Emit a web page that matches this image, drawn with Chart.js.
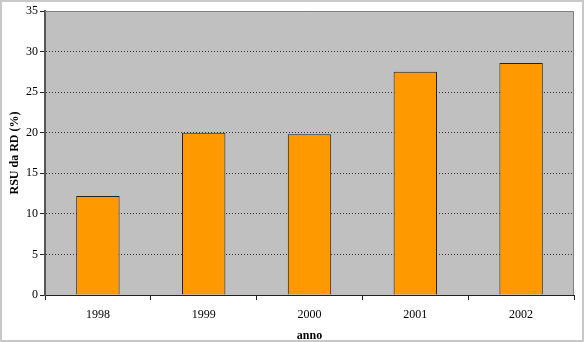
<!DOCTYPE html>
<html><head><meta charset="utf-8">
<script src="https://cdn.jsdelivr.net/npm/chart.js@4/dist/chart.umd.min.js"></script>
<style>html,body{margin:0;padding:0;background:#fff}#w{width:584px;height:342px;position:relative}</style>
</head><body><div id="w"><canvas id="c" width="584" height="342"></canvas></div>
<script>
const categories = ['1998','1999','2000','2001','2002'];
const values = [12.2, 20.0, 19.8, 27.5, 28.6];
const yTicks = [0,5,10,15,20,25,30,35];
const yTitle = 'RSU da RD (%)';
const xTitle = 'anno';

const bgPlugin = {
  id:'bg',
  beforeDraw(chart){
    const {ctx, chartArea:a} = chart;
    ctx.save();
    ctx.fillStyle='#fff'; ctx.fillRect(0,0,chart.width,chart.height);
    ctx.fillStyle='#c0c0c0'; ctx.fillRect(a.left,a.top,a.right-a.left,a.bottom-a.top);
    ctx.restore();
  },
  afterDraw(chart){
    const {ctx, chartArea:a} = chart;
    ctx.save();
    ctx.strokeStyle='#808080'; ctx.lineWidth=1;
    ctx.beginPath();
    ctx.moveTo(a.left,a.top+0.5); ctx.lineTo(a.right-0.5,a.top+0.5); ctx.lineTo(a.right-0.5,a.bottom);
    ctx.stroke();
    ctx.strokeStyle='#c8c8c8'; ctx.lineWidth=2;
    ctx.strokeRect(1,1,chart.width-2,chart.height-2);
    ctx.restore();
  }
};
const serif = 'Liberation Serif';
new Chart(document.getElementById('c'), {
  type:'bar',
  data:{labels:categories, datasets:[{data:values, backgroundColor:'#ff9900', borderColor:'#222', borderWidth:1, barPercentage:0.82, categoryPercentage:0.5}]},
  options:{
    responsive:false, animation:false, devicePixelRatio:1,
    layout:{padding:{left:0,right:10,top:11,bottom:0}},
    plugins:{legend:{display:false}, tooltip:{enabled:false}},
    scales:{
      x:{
        grid:{offset:true, drawOnChartArea:false, drawTicks:true, tickLength:5, color:'#222'},
        border:{color:'#222', width:1},
        ticks:{color:'#000', font:{family:serif,size:12}, padding:8},
        title:{display:true, text:xTitle, color:'#000', font:{family:serif,size:12,weight:'bold'}, padding:{top:0,bottom:-1}},
        afterFit(s){ s.height = 47; }
      },
      y:{
        min:0, max:35,
        afterBuildTicks(s){ s.ticks = yTicks.map(v=>({value:v})); },
        grid:{color:'#333', tickColor:'#222', tickLength:5, lineWidth:1},
        border:{color:'#555', width:2, dash:[1,2]},
        ticks:{color:'#000', font:{family:serif,size:12}, padding:2},
        title:{display:true, text:yTitle, color:'#000', font:{family:serif,size:12,weight:'bold'}, padding:{top:8,bottom:0}},
        afterFit(s){ s.width = 45; }
      }
    }
  },
  plugins:[bgPlugin]
});
</script></body></html>
